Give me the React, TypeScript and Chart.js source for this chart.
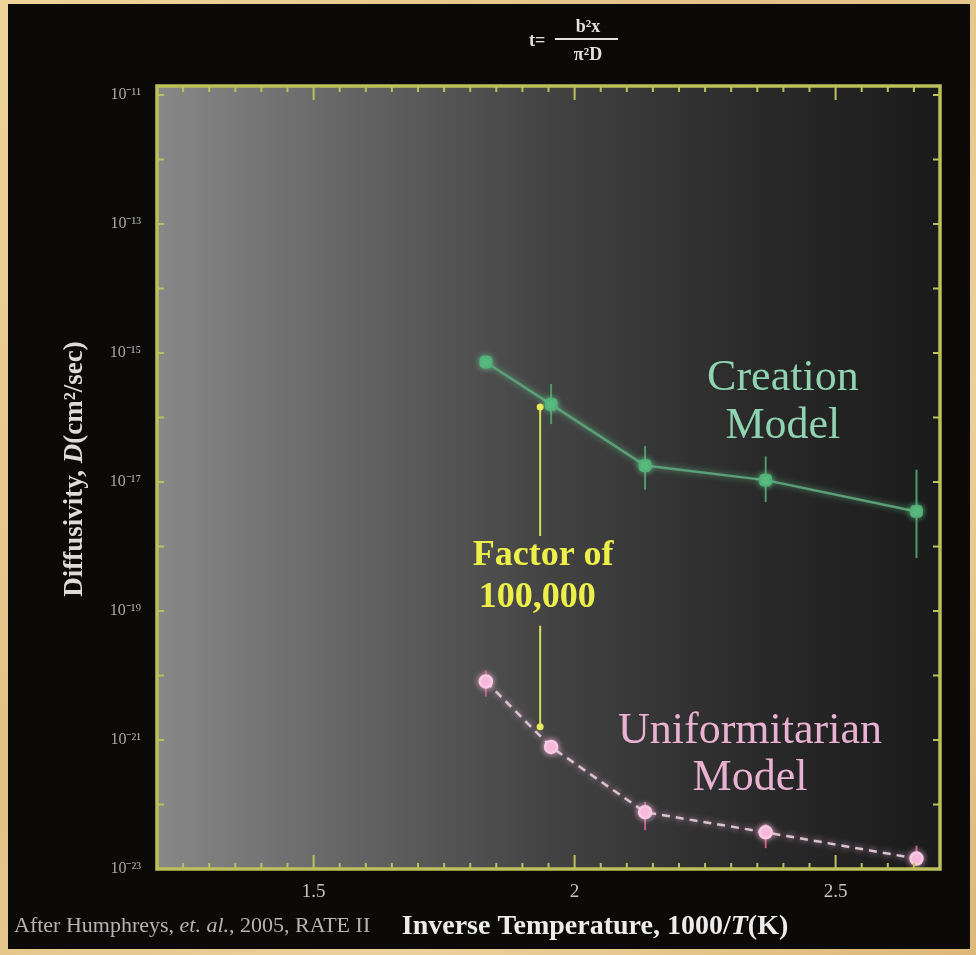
import { useEffect, useRef } from 'react';
import { Chart, registerables } from 'chart.js';

Chart.register(...registerables);

// ---- data ----
const inverseTemp = [1.83, 1.955, 2.135, 2.366, 2.655];
const creationD = [7.2e-16, 1.6e-16, 1.8e-17, 1.07e-17, 3.5e-18];
const creationHigh = [null, 3.3e-16, 3.6e-17, 2.5e-17, 1.55e-17];
const creationLow = [null, 7.9e-17, 7.6e-18, 4.9e-18, 6.6e-19];
const uniformD = [8.1e-21, 7.8e-22, 7.6e-23, 3.7e-23, 1.45e-23];
const uniformHigh = [1.2e-20, 1.0e-21, 1.1e-22, 5.0e-23, 2.3e-23];
const uniformLow = [4.7e-21, 6.0e-22, 4.0e-23, 2.1e-23, 1.15e-23];
const factorX = 1.934;
const factorTop = 1.45e-16;
const factorBottom = 1.6e-21;
const factorLines = ['Factor of', '100,000'];
const factorLineY = [7.1e-19, 1.6e-19];
const creationLabel = ['Creation', 'Model'];
const creationLabelX = 2.399;
const creationLabelY = [2.7e-16, 4.8e-17];
const uniformLabel = ['Uniformitarian', 'Model'];
const uniformLabelX = 2.336;
const uniformLabelY = [8.9e-22, 1.66e-22];
const yDecades = [-23, -22, -21, -20, -19, -18, -17, -16, -15, -14, -13, -12, -11];
const yLabelDecades = [-23, -21, -19, -17, -15, -13, -11];
const xMin = 1.2;
const xMax = 2.7;
const yMin = 1e-23;
const yMax = Math.pow(10, -10.86);

const SERIF = "'Liberation Serif', 'Times New Roman', serif";
const SUP: Record<string, string> = { '-': '⁻', '0': '⁰', '1': '¹', '2': '²', '3': '³', '4': '⁴', '5': '⁵', '6': '⁶', '7': '⁷', '8': '⁸', '9': '⁹' };
const sup = (n: number) => String(n).split('').map((c) => SUP[c] || c).join('');

type Part = { t: string; f: string };
function drawRich(ctx: CanvasRenderingContext2D, parts: Part[], x: number, y: number, align: 'left' | 'center') {
  let total = 0;
  const widths = parts.map((p) => {
    ctx.font = p.f;
    const w = ctx.measureText(p.t).width;
    total += w;
    return w;
  });
  let cx = align === 'center' ? x - total / 2 : x;
  ctx.textAlign = 'left';
  parts.forEach((p, i) => {
    ctx.font = p.f;
    ctx.fillText(p.t, cx, y);
    cx += widths[i];
  });
}

const deco = {
  id: 'deco',
  beforeDraw(chart: any) {
    const { ctx, chartArea: a } = chart;
    ctx.save();
    const g = ctx.createLinearGradient(a.left, 0, a.right, 0);
    g.addColorStop(0, '#888888');
    g.addColorStop(0.25, '#646464');
    g.addColorStop(0.5, '#434343');
    g.addColorStop(0.75, '#2b2b2b');
    g.addColorStop(1, '#1a1a1a');
    ctx.fillStyle = g;
    ctx.fillRect(a.left, a.top, a.right - a.left, a.bottom - a.top);
    ctx.restore();
  },
  beforeDatasetsDraw(chart: any) {
    const { ctx, scales } = chart;
    const xs = scales.x, ys = scales.y;
    ctx.save();
    ctx.lineWidth = 2;
    ctx.strokeStyle = '#4f9a6c';
    inverseTemp.forEach((xv, i) => {
      const hi = creationHigh[i], lo = creationLow[i];
      if (hi == null || lo == null) return;
      const px = xs.getPixelForValue(xv);
      ctx.beginPath();
      ctx.moveTo(px, ys.getPixelForValue(hi));
      ctx.lineTo(px, ys.getPixelForValue(lo));
      ctx.stroke();
    });
    ctx.strokeStyle = '#c85a8e';
    inverseTemp.forEach((xv, i) => {
      const px = xs.getPixelForValue(xv);
      ctx.beginPath();
      ctx.moveTo(px, ys.getPixelForValue(uniformHigh[i]));
      ctx.lineTo(px, ys.getPixelForValue(uniformLow[i]));
      ctx.stroke();
    });
    ctx.restore();
  },
  beforeDatasetDraw(chart: any, args: any) {
    const ctx = chart.ctx;
    ctx.save();
    ctx.shadowColor = args.index === 0 ? 'rgba(110,210,150,0.7)' : 'rgba(255,190,225,0.8)';
    ctx.shadowBlur = 6;
  },
  afterDatasetDraw(chart: any) {
    chart.ctx.restore();
  },
  afterDatasetsDraw(chart: any) {
    const { ctx, scales } = chart;
    const xs = scales.x, ys = scales.y;
    ctx.save();
    const fx = xs.getPixelForValue(factorX);
    const fTop = ys.getPixelForValue(factorTop);
    const fBot = ys.getPixelForValue(factorBottom);
    const l1 = ys.getPixelForValue(factorLineY[0]);
    const l2 = ys.getPixelForValue(factorLineY[1]);
    const gapTop = l1 - 20;
    const gapBot = l2 + 28;
    ctx.strokeStyle = '#d9de5a';
    ctx.lineWidth = 2;
    ctx.beginPath();
    ctx.moveTo(fx, fTop);
    ctx.lineTo(fx, gapTop);
    ctx.moveTo(fx, gapBot);
    ctx.lineTo(fx, fBot);
    ctx.stroke();
    ctx.fillStyle = '#e6ea5c';
    [fTop, fBot].forEach((py) => {
      ctx.beginPath();
      ctx.arc(fx, py, 3.5, 0, Math.PI * 2);
      ctx.fill();
    });
    ctx.fillStyle = '#eef04a';
    ctx.font = `bold 36px ${SERIF}`;
    ctx.textAlign = 'center';
    ctx.textBaseline = 'middle';
    ctx.fillText(factorLines[0], fx + 3, l1);
    ctx.fillText(factorLines[1], fx - 3, l2);
    ctx.textBaseline = 'alphabetic';
    ctx.font = `44px ${SERIF}`;
    ctx.fillStyle = '#8fd3b1';
    creationLabel.forEach((t, i) => ctx.fillText(t, xs.getPixelForValue(creationLabelX), ys.getPixelForValue(creationLabelY[i])));
    ctx.fillStyle = '#eab2d2';
    uniformLabel.forEach((t, i) => ctx.fillText(t, xs.getPixelForValue(uniformLabelX), ys.getPixelForValue(uniformLabelY[i])));
    ctx.restore();
  },
  afterDraw(chart: any) {
    const { ctx, chartArea: a, scales } = chart;
    ctx.save();
    ctx.strokeStyle = '#bcc05a';
    ctx.lineWidth = 2;
    ctx.beginPath();
    scales.x.ticks.forEach((t: any) => {
      const px = scales.x.getPixelForValue(t.value);
      const major = Math.abs(t.value * 2 - Math.round(t.value * 2)) < 1e-6;
      const len = major ? 14 : 6;
      ctx.moveTo(px, a.bottom);
      ctx.lineTo(px, a.bottom - len);
      ctx.moveTo(px, a.top);
      ctx.lineTo(px, a.top + len);
    });
    scales.y.ticks.forEach((t: any) => {
      const py = scales.y.getPixelForValue(t.value);
      const len = 7;
      ctx.moveTo(a.left, py);
      ctx.lineTo(a.left + len, py);
      ctx.moveTo(a.right, py);
      ctx.lineTo(a.right - len, py);
    });
    ctx.stroke();
    ctx.lineWidth = 3.5;
    ctx.strokeRect(a.left, a.top, a.right - a.left, a.bottom - a.top);

    ctx.textBaseline = 'alphabetic';
    ctx.fillStyle = '#ececec';
    const bx = `bold 28px ${SERIF}`;
    const bix = `bold italic 28px ${SERIF}`;
    drawRich(ctx, [
      { t: 'Inverse Temperature, 1000/', f: bx },
      { t: 'T', f: bix },
      { t: '(K)', f: bx },
    ], 595, 934, 'center');

    ctx.fillStyle = '#b4b4b4';
    const rf = `22px ${SERIF}`;
    const rif = `italic 22px ${SERIF}`;
    drawRich(ctx, [
      { t: 'After Humphreys, ', f: rf },
      { t: 'et. al.', f: rif },
      { t: ', 2005, RATE II', f: rf },
    ], 14, 932, 'left');

    ctx.save();
    ctx.translate(82, 469);
    ctx.rotate(-Math.PI / 2);
    ctx.fillStyle = '#dcdcdc';
    const yb = `bold 27px ${SERIF}`;
    const ybi = `bold italic 27px ${SERIF}`;
    drawRich(ctx, [
      { t: 'Diffusivity, ', f: yb },
      { t: 'D', f: ybi },
      { t: '(cm', f: yb },
      { t: '²', f: yb },
      { t: '/sec)', f: yb },
    ], 0, 0, 'center');
    ctx.restore();

    ctx.fillStyle = '#e2e2e2';
    ctx.strokeStyle = '#e2e2e2';
    ctx.font = `bold 18px ${SERIF}`;
    ctx.textAlign = 'left';
    ctx.fillText('t=', 529, 46);
    ctx.lineWidth = 2;
    ctx.beginPath();
    ctx.moveTo(555, 39);
    ctx.lineTo(618, 39);
    ctx.stroke();
    ctx.textAlign = 'center';
    ctx.fillText('b²x', 588, 32);
    ctx.fillText('π²D', 588, 60);
    ctx.restore();
  },
};

export default function App() {
  const ref = useRef<HTMLCanvasElement>(null);
  useEffect(() => {
    if (!ref.current) return;
    const chart = new Chart(ref.current, {
      type: 'scatter',
      data: {
        datasets: [
          {
            label: 'Creation Model',
            data: inverseTemp.map((x, i) => ({ x, y: creationD[i] })),
            showLine: true,
            borderColor: '#5a9f78',
            borderWidth: 2.5,
            backgroundColor: '#52b277',
            pointBorderColor: '#52b277',
            pointStyle: 'rectRounded',
            pointRadius: 6,
          },
          {
            label: 'Uniformitarian Model',
            data: inverseTemp.map((x, i) => ({ x, y: uniformD[i] })),
            showLine: true,
            borderColor: '#d9c3d1',
            borderWidth: 2.5,
            borderDash: [8, 6],
            backgroundColor: '#f4b6d8',
            pointBorderColor: '#f7cbe3',
            pointStyle: 'circle',
            pointRadius: 6,
          },
        ],
      },
      options: {
        responsive: false,
        animation: false,
        layout: { padding: { top: 86, right: 36, left: 0, bottom: 0 } },
        plugins: { legend: { display: false }, tooltip: { enabled: false } },
        scales: {
          x: {
            type: 'linear',
            min: xMin,
            max: xMax,
            afterFit: (s: any) => { s.height = 86; },
            grid: { display: false, drawTicks: false },
            border: { display: false },
            ticks: {
              stepSize: 0.05,
              autoSkip: false,
              maxRotation: 0,
              padding: 12,
              color: '#c4c4c4',
              font: { family: SERIF, size: 19 },
              callback: (v: any) => {
                const n = Number(v);
                return Math.abs(n * 2 - Math.round(n * 2)) < 1e-6 ? String(Math.round(n * 10) / 10) : '';
              },
            },
          },
          y: {
            type: 'logarithmic',
            min: yMin,
            max: yMax,
            afterFit: (s: any) => { s.width = 157; },
            afterBuildTicks: (s: any) => { s.ticks = yDecades.map((e) => ({ value: Math.pow(10, e) })); },
            grid: { display: false, drawTicks: false },
            border: { display: false },
            ticks: {
              autoSkip: false,
              padding: 16,
              color: '#a8a8a8',
              font: { family: SERIF, size: 16 },
              callback: (v: any) => {
                const e = Math.round(Math.log10(Number(v)));
                return yLabelDecades.includes(e) ? '10' + sup(e) : '';
              },
            },
          },
        },
      },
      plugins: [deco],
    } as any);
    return () => chart.destroy();
  }, []);

  return (
    <div style={{ position: 'absolute', left: 0, top: 0, width: 976, height: 955, background: 'linear-gradient(135deg, #efd49a, #e2c184 40%, #ecd09a 70%, #ddb877)', overflow: 'hidden' }}>
      <div style={{ position: 'absolute', left: 8, top: 4, width: 962, height: 945, background: '#0c0a08' }} />
      <canvas ref={ref} width={976} height={955} style={{ position: 'absolute', left: 0, top: 0, width: 976, height: 955 }} />
    </div>
  );
}
